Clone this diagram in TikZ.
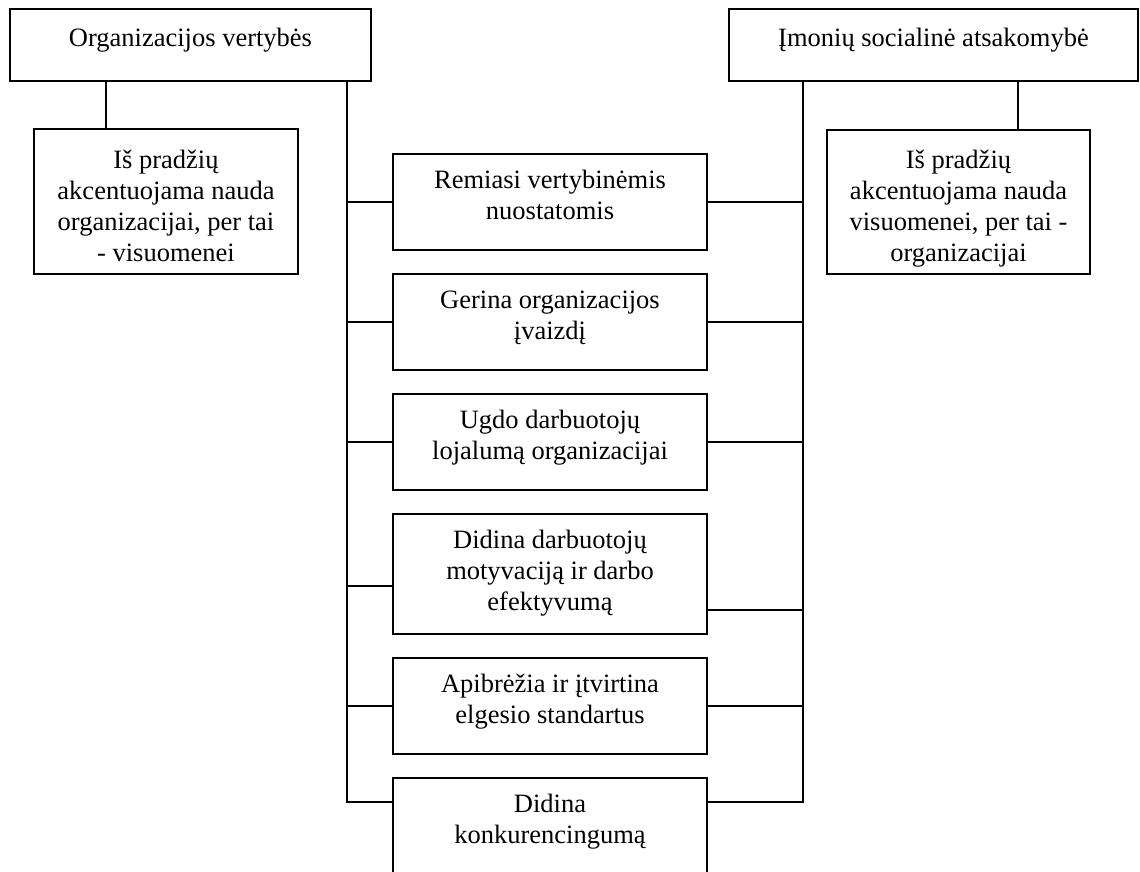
\documentclass[tikz,border=0pt]{standalone}
\usepackage{fontspec}
\setmainfont{Liberation Serif}
\usetikzlibrary{calc}
% box of fixed size; text set from the top, first baseline #3 below the top edge
\newcommand\boxtext[4]{\parbox[c][#2pt][t]{#1pt}{\centering\rule{0pt}{#3pt}#4\par}}
\begin{document}
\begin{tikzpicture}[x=1pt,y=-1pt,line width=1.3pt,
  boxnode/.style={draw,inner sep=0pt,outer sep=0pt,anchor=north west,
    font=\fontsize{26.5}{31}\selectfont},
  link/.style={draw,line join=miter}]
\fill[white] (0,0) rectangle (1140,872);
\useasboundingbox (0,0) rectangle (1140,872);

% top level
\node[boxnode] (ov) at (10,9) {\boxtext{361}{72}{38}{Organizacijos vertybės}};
\node[boxnode] (isa) at (729,9) {\boxtext{409}{72}{38}{Įmonių socialinė atsakomybė}};

% side boxes
\node[boxnode] (ovn) at (34,129) {\boxtext{264}{145}{39}{Iš pradžių\\akcentuojama nauda\\organizacijai, per tai\\- visuomenei}};
\node[boxnode] (isan) at (827,130) {\boxtext{263}{144}{38}{Iš pradžių\\akcentuojama nauda\\visuomenei, per tai -\\organizacijai}};

% shared features
\node[boxnode] (c1) at (393,154) {\boxtext{314}{96}{34}{Remiasi vertybinėmis\\nuostatomis}};
\node[boxnode] (c2) at (393,274) {\boxtext{314}{96}{34}{Gerina organizacijos\\įvaizdį}};
\node[boxnode] (c3) at (393,394) {\boxtext{314}{96}{34}{Ugdo darbuotojų\\lojalumą organizacijai}};
\node[boxnode] (c4) at (393,514) {\boxtext{314}{120}{34}{Didina darbuotojų\\motyvaciją ir darbo\\efektyvumą}};
\node[boxnode] (c5) at (393,658) {\boxtext{314}{96}{34}{Apibrėžia ir įtvirtina\\elgesio standartus}};
\node[boxnode] (c6) at (393,778) {\boxtext{314}{96}{34}{Didina\\konkurencingumą}};

% column positions of the connecting lines
\coordinate (lt) at (106,0);
\coordinate (rt) at (1018,0);
\coordinate (ls) at (347,0);
\coordinate (rs) at (803,0);
\coordinate (c4l) at ($(c4.north west)+(0,72)$);
\coordinate (c4r) at ($(c4.north east)+(0,96)$);
\coordinate (c6l) at ($(c6.north west)+(0,24)$);
\coordinate (c6r) at ($(c6.north east)+(0,24)$);

% stems to the side boxes
\draw[link] (ov.south -| lt) -- (ovn.north -| lt);
\draw[link] (isa.south -| rt) -- (isan.north -| rt);

% spines
\draw[link] (ov.south -| ls) |- (c6l);
\draw[link] (isa.south -| rs) |- (c6r);

% branches
\foreach \n in {c1,c2,c3,c5}{
  \draw[link] (ls |- \n.west) -- (\n.west);
  \draw[link] (\n.east) -- (rs |- \n.east);
}
\draw[link] (ls |- c4l) -- (c4l);
\draw[link] (c4r) -- (rs |- c4r);
\end{tikzpicture}
\end{document}
